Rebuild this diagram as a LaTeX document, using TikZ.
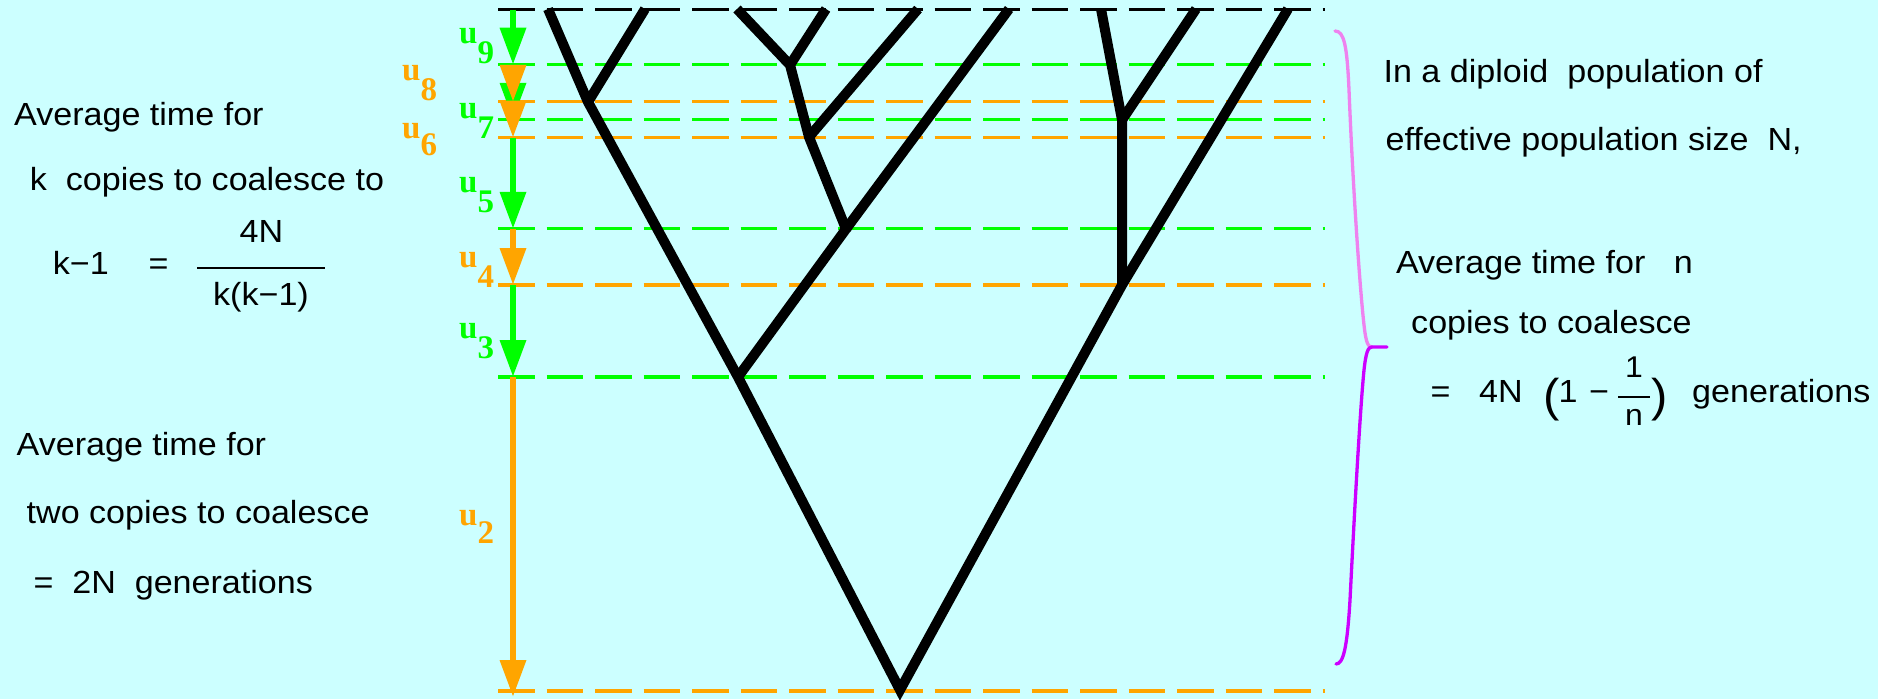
\documentclass[tikz,border=0pt]{standalone}
\usepackage{fontspec}
\setmainfont{Liberation Sans}[FakeStretch=1.065]
\newfontfamily\ufont{Liberation Serif}
\usetikzlibrary{arrows.meta}
\definecolor{bg}{RGB}{204,255,255}
\definecolor{ugreen}{RGB}{0,255,0}
\definecolor{uorange}{RGB}{255,165,0}
\definecolor{bpink}{RGB}{238,130,238}
\definecolor{bpurple}{RGB}{204,0,255}
\begin{document}
\begin{tikzpicture}[x=1pt,y=-1pt,
  txt/.style={inner sep=0pt,anchor=base west,font=\fontsize{32}{38}\selectfont},
  ctxt/.style={inner sep=0pt,anchor=base,font=\fontsize{32}{38}\selectfont},
  smtxt/.style={inner sep=0pt,anchor=base,font=\fontsize{30}{36}\selectfont},
  paren/.style={inner sep=0pt,font=\fontsize{46}{46}\selectfont},
  ulab/.style={inner sep=0pt,anchor=base west,font=\ufont\bfseries\fontsize{33}{38}\selectfont},
  hline/.style={line width=3.3pt,dash pattern=on 36.7pt off 11.8pt},
  tarrow/.style={line width=6.5pt,-{Triangle[length=37pt,width=25pt]}},
  branch/.style={line width=10pt,black},
  fracbar/.style={line width=2.8pt,black},
  bracestroke/.style={line width=3.3pt,line cap=round}
]
\fill[bg] (0,0) rectangle (1878,699);
\useasboundingbox (0,0) rectangle (1878,699);

% horizontal dashed levels
\foreach \n/\y/\c in {0/9.5/black, 9/64.7/ugreen, 8/101.8/uorange, 7/119.8/ugreen, 6/137.7/uorange, 5/228.8/ugreen, 4/285/uorange, 3/377/ugreen, 2/691/uorange} {
  \coordinate (hw\n) at (498,\y);
  \coordinate (he\n) at (1325,\y);
  \draw[hline,\c] (hw\n) -- (he\n);
}

% arrow points
\coordinate (a0) at (513,9.5);
\coordinate (a9) at (513,64.7);
\coordinate (a8) at (513,101.8);
\coordinate (a7) at (513,119.8);
\coordinate (a6) at (513,137.7);
\coordinate (a5) at (513,228.8);
\coordinate (a4) at (513,285);
\coordinate (a3) at (513,377);
\coordinate (a2) at (513,697);

\draw[tarrow,ugreen] (a0) -- (a9);
\draw[tarrow,ugreen] (a8) -- (a7);
\draw[tarrow,ugreen] (a6) -- (a5);
\draw[tarrow,ugreen] (a4) -- (a3);
\draw[tarrow,uorange] (a9) -- (a8);
\draw[tarrow,uorange] (a7) -- (a6);
\draw[tarrow,uorange] (a5) -- (a4);
\draw[tarrow,uorange] (a3) -- (a2);

% u labels
\node[ulab,ugreen]  (u9) at (459,43)  {u\raisebox{-20pt}{9}};
\node[ulab,uorange] (u8) at (402,80)  {u\raisebox{-20pt}{8}};
\node[ulab,ugreen]  (u7) at (459,118) {u\raisebox{-20pt}{7}};
\node[ulab,uorange] (u6) at (402,138) {u\raisebox{-17pt}{6}};
\node[ulab,ugreen]  (u5) at (459,192) {u\raisebox{-20pt}{5}};
\node[ulab,uorange] (u4) at (459,267) {u\raisebox{-20pt}{4}};
\node[ulab,ugreen]  (u3) at (459,338) {u\raisebox{-20pt}{3}};
\node[ulab,uorange] (u2) at (459,525) {u\raisebox{-18pt}{2}};

% tree
\coordinate (L1) at (548,9);
\coordinate (L2) at (645,9);
\coordinate (L3) at (737,9);
\coordinate (L4) at (826,9);
\coordinate (L5) at (918,9);
\coordinate (L6) at (1009,9);
\coordinate (L7) at (1101,9);
\coordinate (L8) at (1196,9);
\coordinate (L9) at (1288,9);
\coordinate (A) at (588,102);
\coordinate (B) at (790,65);
\coordinate (C) at (809,137);
\coordinate (D) at (846,229);
\coordinate (E) at (1122,120);
\coordinate (F) at (1122,285);
\coordinate (G) at (738,377);
\coordinate (R) at (900,690);

\draw[branch] (L1) -- (A) -- (G) -- (R) -- (F) -- (L9);
\draw[branch] (L2) -- (A);
\draw[branch] (L3) -- (B) -- (C) -- (D) -- (G);
\draw[branch] (L4) -- (B);
\draw[branch] (L5) -- (C);
\draw[branch] (L6) -- (D);
\draw[branch] (L7) -- (E) -- (F);
\draw[branch] (L8) -- (E);

% brace
\draw[bracestroke,bpink] (1335,31) .. controls (1344,31) and (1347,45) .. (1349,90)
   .. controls (1353,190) and (1360,290) .. (1364,325)
   .. controls (1366,343) and (1368,347) .. (1372,347);
\draw[bracestroke,bpurple] (1387,347) -- (1372,347)
   .. controls (1368,347) and (1366,352) .. (1364,370)
   .. controls (1360,410) and (1354,520) .. (1350,600)
   .. controls (1347,650) and (1343,664) .. (1336,664);

% left texts
\node[txt] (lt1) at (14,125) {Average time for};
\node[txt] (lt2) at (29.7,190) {k~~copies to coalesce to};
\node[txt] (lt3) at (52.7,274) {k−1};
\node[txt] (lt4) at (148.3,274) {=};
\node[ctxt] (lnum) at (261.5,242) {4N};
\node[ctxt] (lden) at (261,305) {k(k−1)};
\coordinate (lbw) at (197,268);
\coordinate (lbe) at (325,268);
\draw[fracbar] (lbw) -- (lbe);

\node[txt] (lb1) at (16.5,455) {Average time for};
\node[txt] (lb2) at (26.5,523) {two copies to coalesce};
\node[txt] (lb3) at (33.3,593) {=~~2N~~generations};

% right texts
\node[txt] (r1) at (1383.4,82) {In a diploid~~population of};
\node[txt] (r2) at (1385.4,150) {effective population size~~N,};
\node[txt] (r3) at (1395.8,273) {Average time for~~~n};
\node[txt] (r4) at (1411,333) {copies to coalesce};
\node[txt] (r5) at (1430.3,402) {=};
\node[txt] (r6) at (1479,402) {4N};
\node[paren] (rlp) at (1551.5,400) {(};
\node[txt] (r7) at (1558.5,402) {1};
\node[txt] (r8) at (1589,402) {−};
\node[smtxt] (rnum) at (1634,377) {1};
\node[smtxt] (rden) at (1634,425) {n};
\coordinate (rbw) at (1618,397);
\coordinate (rbe) at (1650,397);
\draw[fracbar] (rbw) -- (rbe);
\node[paren] (rrp) at (1660,400) {)};
\node[txt] (r9) at (1692,402) {generations};
\end{tikzpicture}
\end{document}
